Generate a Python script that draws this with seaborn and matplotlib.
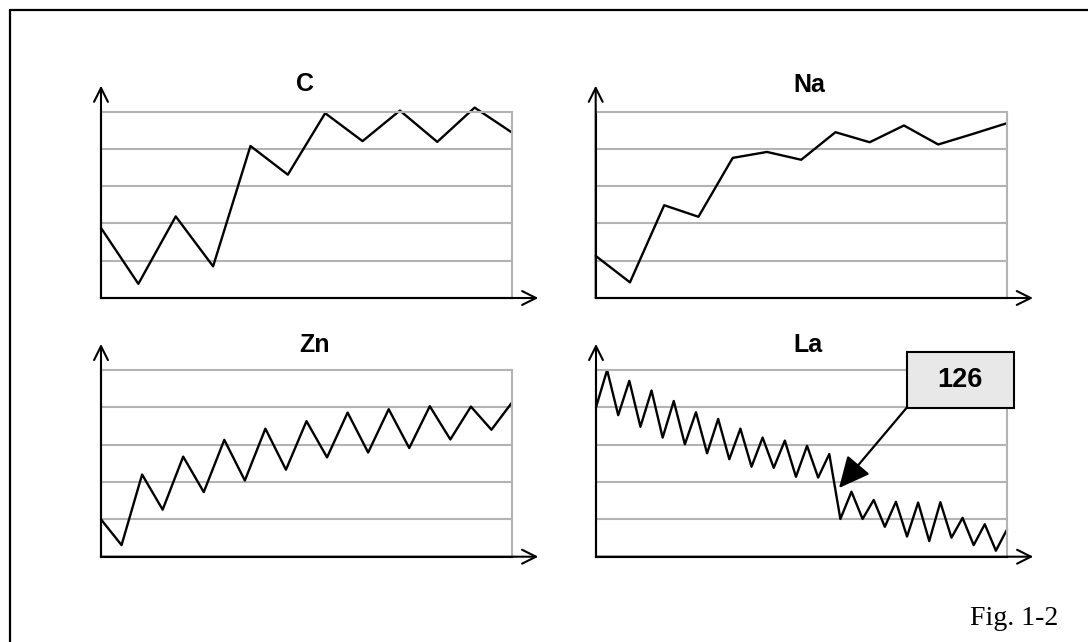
import matplotlib
matplotlib.use('Agg')
import matplotlib.pyplot as plt
from matplotlib.lines import Line2D
from matplotlib.patches import Rectangle
import seaborn as sns
import pandas as pd

# Datos (unidades = lineas de la rejilla)
c_vals = [1.88, 0.38, 2.19, 0.85, 4.08, 3.31, 4.96, 4.21, 5.03, 4.19, 5.11, 4.44]
na_vals = [1.13, 0.42, 2.49, 2.18, 3.76, 3.92, 3.71, 4.45, 4.18, 4.63, 4.12, 4.40, 4.69]
zn_vals = [1.00, 0.31, 2.20, 1.26, 2.68, 1.73, 3.13, 2.04, 3.43, 2.33, 3.63,
           2.66, 3.86, 2.79, 3.95, 2.91, 4.03, 3.14, 4.02, 3.40, 4.13]
la_vals = [4.00, 5.00, 3.79, 4.71, 3.48, 4.45, 3.19, 4.17, 3.01, 3.87, 2.77,
           3.69, 2.61, 3.43, 2.41, 3.19, 2.38, 3.11, 2.14, 2.97, 2.12, 2.75,
           1.01, 1.74, 1.01, 1.52, 0.80, 1.47, 0.54, 1.45, 0.42, 1.46, 0.51,
           1.04, 0.31, 0.87, 0.16, 0.73]
titles = ['C', 'Na', 'Zn', 'La']
label_126 = '126'
fig_label = 'Fig. 1-2'

W, H = 1088, 642
GRAY = '#b3b3b3'

sns.set_style('white')
plt.rcParams['font.family'] = ['Liberation Sans', 'DejaVu Sans']
plt.rcParams['text.color'] = 'black'

fig = plt.figure(figsize=(W / 100, H / 100), dpi=100)


def px_axes(left, right, top, bottom):
    return fig.add_axes([left / W, 1 - bottom / H, (right - left) / W, (bottom - top) / H])


# posiciones en pixeles de cada panel (izq, der, arriba, abajo)
boxes = [(101, 512, 111.7, 298), (595.7, 1006.7, 111.7, 298),
         (101, 512, 370, 556.7), (596, 1007, 370, 556.7)]
title_pos = [(305, 91), (809, 92), (314, 352), (808, 352)]
series = [c_vals, na_vals, zn_vals, la_vals]

axes = []
for vals, box, title, tpos in zip(series, boxes, titles, title_pos):
    ax = px_axes(*box)
    df = pd.DataFrame({'x': range(len(vals)), 'y': vals})
    sns.lineplot(data=df, x='x', y='y', ax=ax, color='black', linewidth=1.7, clip_on=False)
    ax.set_xlim(0, len(vals) - 1)
    ax.set_ylim(0, 5)
    ax.set_yticks([1, 2, 3, 4])
    ax.set_xticks([])
    ax.grid(axis='y', color=GRAY, linewidth=1.5)
    ax.tick_params(length=0, labelleft=False, labelbottom=False)
    ax.set_xlabel('')
    ax.set_ylabel('')
    for side in ['top', 'right']:
        ax.spines[side].set_color(GRAY)
        ax.spines[side].set_linewidth(1.5)
    for side in ['left', 'bottom']:
        ax.spines[side].set_color('black')
        ax.spines[side].set_linewidth(1.5)
    ax.set_axisbelow(True)
    # flechas de los ejes
    ax.annotate('', xy=(0, 1.14), xytext=(0, 0), xycoords='axes fraction',
                arrowprops=dict(arrowstyle='->,head_length=1.0,head_width=0.5',
                                color='black', lw=1.5, shrinkA=0, shrinkB=0))
    ax.annotate('', xy=(1.064, 0), xytext=(0, 0), xycoords='axes fraction',
                arrowprops=dict(arrowstyle='->,head_length=1.0,head_width=0.5',
                                color='black', lw=1.5, shrinkA=0, shrinkB=0))
    fig.text(tpos[0] / W, 1 - tpos[1] / H, title, ha='center', va='baseline',
             fontsize=18, fontweight='bold', color='black')
    axes.append(ax)

# recuadro "126" con flecha hacia el salto de La
bx0, bx1, by0, by1 = 906.7, 1014, 351.7, 407.7
rect = Rectangle((bx0 / W, 1 - by1 / H), (bx1 - bx0) / W, (by1 - by0) / H,
                 transform=fig.transFigure, facecolor='#e8e8e8', edgecolor='black',
                 linewidth=1.5, zorder=5)
fig.patches.append(rect)
fig.text((bx0 + bx1) / 2 / W, 1 - (by0 + by1) / 2 / H, label_126, ha='center', va='center',
         fontsize=19.5, fontweight='bold', color='black', zorder=6)
axes[3].annotate('', xy=(839, H - 488), xycoords='figure pixels',
                 xytext=(bx0, H - by1), textcoords='figure pixels',
                 arrowprops=dict(arrowstyle='-|>,head_length=0.8,head_width=0.38',
                                 mutation_scale=24, color='black', lw=1.6,
                                 shrinkA=0, shrinkB=0))

# marco exterior
fig.add_artist(Line2D([10 / W, 1], [1 - 10 / H, 1 - 10 / H], transform=fig.transFigure,
                      color='black', linewidth=1.6))
fig.add_artist(Line2D([10 / W, 10 / W], [1 - 10 / H, 0], transform=fig.transFigure,
                      color='black', linewidth=1.6))

fig.text(1058 / W, 1 - 625 / H, fig_label, ha='right', va='baseline', fontsize=20,
         family=['Liberation Serif', 'DejaVu Serif'], color='black')

fig.savefig('out.png', dpi=100)
